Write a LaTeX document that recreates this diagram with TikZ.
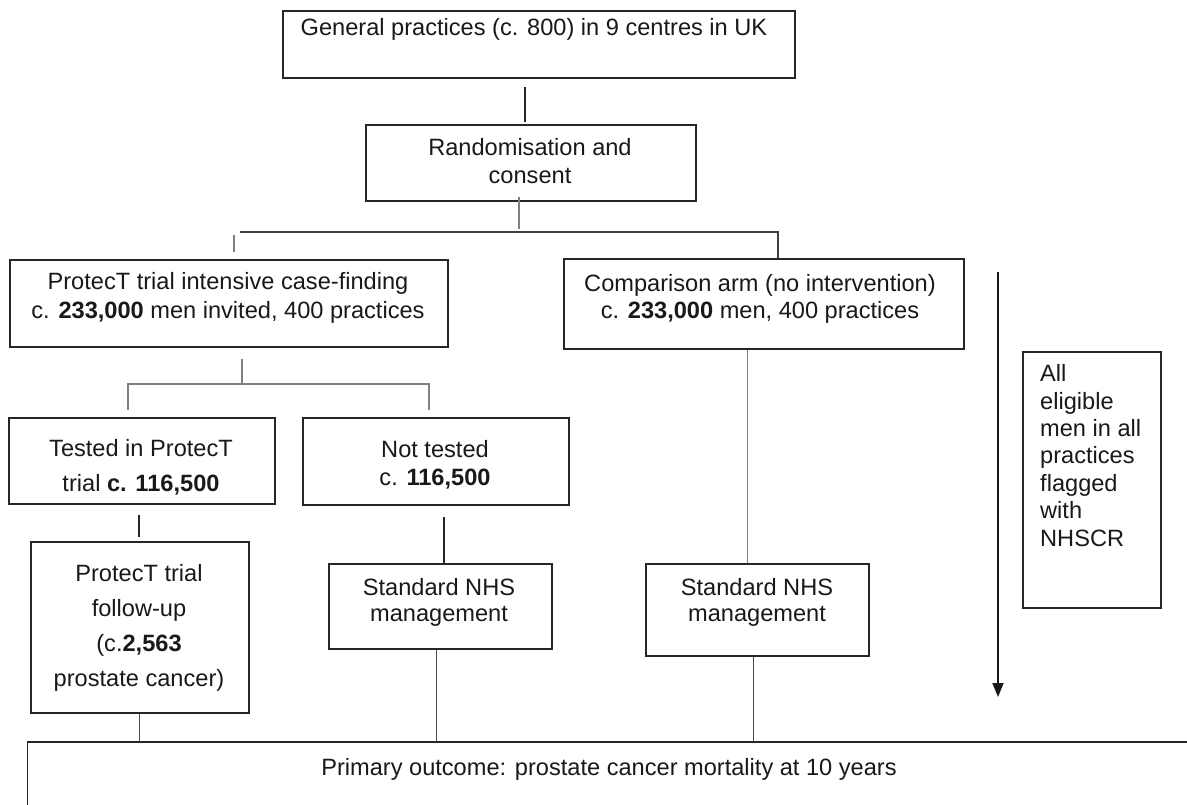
\documentclass[tikz,border=0pt]{standalone}
\usepackage{fontspec}
\setmainfont{Liberation Sans}
\usetikzlibrary{calc,arrows.meta}
\newcommand{\fs}[1]{\fontsize{23.6}{#1}\selectfont}
\begin{document}
\begin{tikzpicture}[x=1pt,y=-1pt,
  box/.style={draw=black!85, line width=1.6pt, inner sep=0pt, anchor=north west, fill=white},
  txt/.style={inner sep=0pt, align=center, anchor=base, text=black!90},
  lk/.style={line width=1.5pt, draw=black!85},
  lg/.style={line width=1.5pt, draw=black!50},
  lb/.style={line width=1.1pt, draw=black!70},
  arr/.style={line width=1.8pt, draw=black!90, -{Triangle[length=14pt,width=11pt]}}
]
\clip (0,0) rectangle (1187,805);
\fill[white] (0,0) rectangle (1187,805);

% boxes
\node[box, minimum width=512pt, minimum height=67pt]  (top)       at (282,10)   {};
\node[box, minimum width=330pt, minimum height=76pt]  (rand)      at (365,124)  {};
\node[box, minimum width=438pt, minimum height=87pt]  (prot)      at (9,259)    {};
\node[box, minimum width=400pt, minimum height=90pt]  (comp)      at (563,258)  {};
\node[box, minimum width=266pt, minimum height=86pt]  (tested)    at (8,417)    {};
\node[box, minimum width=266pt, minimum height=87pt]  (nottested) at (302,417)  {};
\node[box, minimum width=218pt, minimum height=171pt] (follow)    at (30,541)   {};
\node[box, minimum width=223pt, minimum height=85pt]  (stdm)      at (328,563)  {};
\node[box, minimum width=223pt, minimum height=92pt]  (stdr)      at (645,563)  {};
\node[box, minimum width=138pt, minimum height=256pt] (nhscr)     at (1022,351) {};
\node[box, minimum width=1165pt, minimum height=160pt] (outcome)  at (26.5,741) {};

% texts (base anchor = baseline of the last line)
\node[txt, font=\fs{27}]   (tTop)    at (534,36)    {General practices (c. 800) in 9 centres in UK};
\node[txt, font=\fs{27.5}] (tRand)   at (530,183.5) {Randomisation and\\consent};
\node[txt, font=\fs{28.5}] (tProt)   at (228,318.5) {ProtecT trial intensive case-finding\\c. \textbf{233,000} men invited, 400 practices};
\node[txt, font=\fs{27.3}] (tComp)   at (760,318.3) {Comparison arm (no intervention)\\c. \textbf{233,000} men, 400 practices};
\node[txt, font=\fs{35}]   (tTested) at (141,491.5) {Tested in ProtecT\\trial \textbf{c. 116,500}};
\node[txt, font=\fs{28}]   (tNot)    at (435,485.5) {Not tested\\c. \textbf{116,500}};
\node[txt, font=\fs{35}]   (tFollow) at (139,686.7) {ProtecT trial\\follow-up\\(c.\textbf{2,563}\\prostate cancer)};
\node[txt, font=\fs{26}]   (tStdm)   at (439,621.5) {Standard NHS\\management};
\node[txt, font=\fs{26.5}] (tStdr)   at (757,621.5) {Standard NHS\\management};
\node[txt, font=\fs{27.4}, align=left, anchor=base west] (tNhscr) at (1040,546.1) {All\\eligible\\men in all\\practices\\flagged\\with\\NHSCR};
\node[txt, font=\fs{27}]   (tOut)    at (609,775) {Primary outcome: prostate cancer mortality at 10 years};

% connectors
\draw[lk] ($(top.south)+(-14,8)$) -- ($(rand.north)+(-6,-2)$);
\coordinate (jR) at (519,229);
\draw[lg] ($(rand.south -| jR)+(0,-5)$) -- (jR);
\coordinate (hL) at (240,232);
\coordinate (hR) at (778,232);
\draw[lk, draw=black!75] (hL) -- (hR) -- (hR |- comp.north);
\coordinate (sA) at (234,235);
\draw[lg] (sA) -- ($(sA |- prot.north)+(0,-7)$);

\coordinate (pJ) at (242,384);
\coordinate (pL) at (128,384);
\coordinate (pR) at (429,384);
\draw[lg] ($(prot.south -| pJ)+(0,11)$) -- (pJ);
\draw[lg] ($(pL |- tested.north)+(0,-7)$) -- (pL) -- (pR) -- ($(pR |- nottested.north)+(0,-7)$);

\draw[lk] ($(follow.north |- tested.south)+(-1,10)$) -- ($(follow.north)+(-1,-4)$);
\draw[lk] ($(stdm.north |- nottested.south)+(3.5,11)$) -- ($(stdm.north)+(3.5,0)$);
\draw[lg] ($(stdr.north |- comp.south)+(-10,0)$) -- ($(stdr.north)+(-10,0)$);

\draw[lb] (follow.south) -- (follow.south |- outcome.north);
\draw[lb] ($(stdm.south)+(-3.5,0)$) -- ($(stdm.south |- outcome.north)+(-3.5,0)$);
\draw[lb] ($(stdr.south)+(-3.5,0)$) -- ($(stdr.south |- outcome.north)+(-3.5,0)$);

\coordinate (aT) at (998,272);
\coordinate (aB) at (998,697);
\draw[arr] (aT) -- (aB);
\end{tikzpicture}
\end{document}
